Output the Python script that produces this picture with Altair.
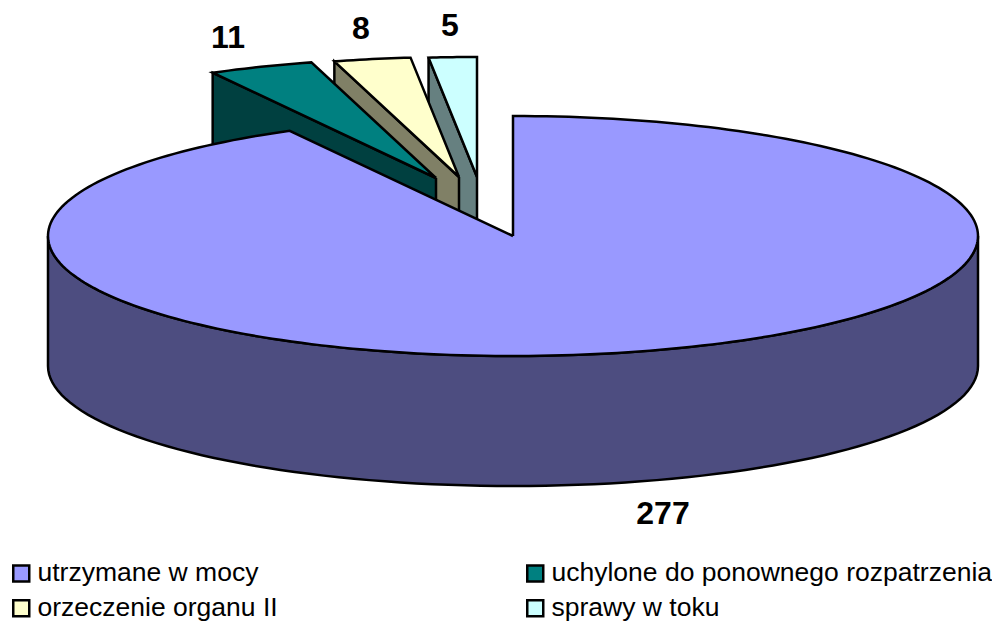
import math
import altair as alt
import pandas as pd

categories = ["utrzymane w mocy", "uchylone do ponownego rozpatrzenia", "orzeczenie organu II", "sprawy w toku"]
values = [277, 11, 8, 5]
top_colors = ["#9999FF", "#008080", "#FFFFCC", "#CCFFFF"]
wall_colors = ["#4D4D80", "#004040", "#808066", "#668080"]
legend_order = [0, 2, 1, 3]

CX, CY, RX, RY, DEPTH = 513, 236, 465, 120, 130
# exploded apex of each small slice (main slice stays at centre)
apex = [(CX, CY), (436, 178), (459, 177), (477, 177)]
label_pos = [(663, 514), (228, 38), (361, 29), (450, 26)]

total = sum(values)
bounds = [0]
for v in values:
    bounds.append(bounds[-1] + v / total * 2 * math.pi)

X_SCALE = alt.Scale(domain=[8, 992], nice=False, zero=False)
Y_SCALE = alt.Scale(domain=[622, 8], nice=False, zero=False)


def rim(i, a):
    ax, ay = apex[i]
    return ax + RX * math.sin(a), ay - RY * math.cos(a)


def arc(i, a0, a1, n=90):
    return [rim(i, a0 + (a1 - a0) * k / n) for k in range(n + 1)]


def poly(points, fill, width=2.5):
    pts = list(points) + [points[0]]
    df = pd.DataFrame({"x": [p[0] for p in pts], "y": [p[1] for p in pts], "i": range(len(pts))})
    return alt.Chart(df).mark_line(
        fill=fill, stroke="black", strokeWidth=width, strokeJoin="miter", clip=False
    ).encode(
        x=alt.X("x:Q", scale=X_SCALE, axis=None),
        y=alt.Y("y:Q", scale=Y_SCALE, axis=None),
        order=alt.Order("i:Q"),
    )


layers = []
# small exploded slices, back to front: 5, 8, 11
for i in [3, 2, 1]:
    a0, a1 = bounds[i], bounds[i + 1]
    ax, ay = apex[i]
    rx0, ry0 = rim(i, a0)
    wall = [(ax, ay), (rx0, ry0), (rx0, ry0 + DEPTH), (ax, ay + DEPTH)]
    layers.append(poly(wall, wall_colors[i]))
    layers.append(poly([(ax, ay)] + arc(i, a0, a1, 12), top_colors[i]))

# main slice: front wall, then top
front = arc(0, math.pi / 2, 3 * math.pi / 2)
layers.append(poly(front + [(x, y + DEPTH) for x, y in reversed(front)], wall_colors[0]))
layers.append(poly([(CX, CY)] + arc(0, bounds[0], bounds[1], 240), top_colors[0]))

# data labels
label_df = pd.DataFrame({
    "x": [p[0] for p in label_pos], "y": [p[1] for p in label_pos], "t": [str(v) for v in values]
})
layers.append(alt.Chart(label_df).mark_text(
    font="Liberation Sans", fontSize=32, fontWeight="bold", color="black", align="center", baseline="middle"
).encode(x=alt.X("x:Q", scale=X_SCALE, axis=None), y=alt.Y("y:Q", scale=Y_SCALE, axis=None), text="t:N"))

# legend carrier (columns fill top-down, so the domain is listed column by column)
legend_domain = [categories[k] for k in legend_order]
legend_range = [top_colors[k] for k in legend_order]
legend_df = pd.DataFrame({"c": categories, "x": [CX] * 4, "y": [CY] * 4})
layers.append(alt.Chart(legend_df).mark_square(opacity=0, size=10).encode(
    x=alt.X("x:Q", scale=X_SCALE, axis=None),
    y=alt.Y("y:Q", scale=Y_SCALE, axis=None),
    color=alt.Color("c:N", scale=alt.Scale(domain=legend_domain, range=legend_range), legend=alt.Legend(
        title=None, orient="none", legendX=0, legendY=552, columns=2, columnPadding=244, rowPadding=8,
        symbolType="square", symbolSize=256, symbolOpacity=1, symbolStrokeColor="black", symbolStrokeWidth=2.5,
        labelFont="Liberation Sans", labelFontSize=26.5, labelColor="black", labelLimit=600, labelOffset=3,
        padding=0,
    )),
))

chart = alt.layer(*layers).properties(
    width=984, height=614, padding=0, background="white",
    autosize=alt.AutoSizeParams(type="none"),
).configure_view(stroke=None)

chart.save("out.html", embed_options={"renderer": "svg", "actions": False})
